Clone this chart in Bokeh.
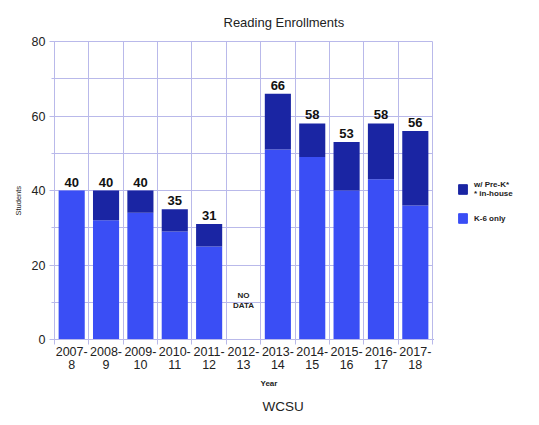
from bokeh.plotting import figure
from bokeh.layouts import row
from bokeh.models import (ColumnDataSource, FixedTicker, SingleIntervalTicker, Range1d,
                          Title, Legend, LegendItem)
from bokeh.core.properties import value
from bokeh.embed import file_html
from bokeh.resources import INLINE

# School years and enrollment counts (None = no data that year)
years = ["2007-8", "2008-9", "2009-10", "2010-11", "2011-12", "2012-13",
         "2013-14", "2014-15", "2015-16", "2016-17", "2017-18"]
totals = [40, 40, 40, 35, 31, None, 66, 58, 53, 58, 56]
k6_only = [40, 32, 34, 29, 25, None, 51, 49, 40, 43, 36]
series_names = ["w/ Pre-K*\n* in-house", "K-6 only"]

FONT = "Liberation Sans"
LIGHT = "#3a4ef5"
DARK = "#1a25a3"
GRID = "#b9b9ea"
INK = "#222222"

xs = [i + 0.5 for i in range(len(years))]
k6 = [v if v is not None else 0 for v in k6_only]
prek = [(t - k) if t is not None else 0 for t, k in zip(totals, k6_only)]

src = ColumnDataSource(dict(x=xs, k6=k6, prek=prek))

p = figure(width=433, height=425, output_backend="svg", toolbar_location=None,
           x_range=Range1d(0, len(years)), y_range=Range1d(0, 80),
           min_border_left=54, min_border_right=1, min_border_top=40,
           min_border_bottom=86)
p.outline_line_color = GRID
p.background_fill_color = "white"

p.vbar_stack(["k6", "prek"], x="x", width=0.76, color=[LIGHT, DARK],
             line_color=None, source=src)

# total labels above each bar
lab_x = [x for x, t in zip(xs, totals) if t is not None]
lab_y = [t for t in totals if t is not None]
lab_t = [str(t) for t in lab_y]
p.text(x=lab_x, y=lab_y, text=lab_t, y_offset=-4,
       text_align="center", text_baseline="bottom", text_font=value(FONT),
       text_font_size="13px", text_font_style="bold", text_color="#111111")

# year without a value
nd = [i for i, t in enumerate(totals) if t is None]
p.text(x=[xs[i] for i in nd], y=[10.5] * len(nd), text=["NO\nDATA"] * len(nd),
       text_align="center", text_baseline="middle", text_font=value(FONT),
       text_font_size="8px", text_font_style="bold", text_color=INK,
       text_line_height=1.1)

# x axis: labels at bar centres, ticks at category boundaries
xa = p.xaxis[0]
xa.ticker = FixedTicker(ticks=xs, minor_ticks=list(range(len(years) + 1)))
xa.major_label_overrides = {x: y.replace("-", "-\n") for x, y in zip(xs, years)}
xa.major_tick_line_color = None
xa.major_tick_out = 0
xa.major_tick_in = 0
xa.minor_tick_out = 5
xa.minor_tick_in = 0
xa.minor_tick_line_color = GRID
xa.axis_line_color = GRID
xa.major_label_text_font = FONT
xa.major_label_text_font_size = "12.5px"
xa.major_label_text_line_height = 0.95
xa.major_label_text_color = INK
xa.major_label_standoff = 0
p.xgrid.ticker = FixedTicker(ticks=list(range(len(years) + 1)))
p.xgrid.grid_line_color = GRID

ya = p.yaxis[0]
ya.ticker = SingleIntervalTicker(interval=20, num_minor_ticks=2)
ya.major_tick_out = 5
ya.major_tick_in = 0
ya.minor_tick_out = 3
ya.minor_tick_in = 0
ya.major_tick_line_color = GRID
ya.minor_tick_line_color = GRID
ya.axis_line_color = GRID
ya.major_label_text_font = FONT
ya.major_label_text_font_size = "12.5px"
ya.major_label_text_color = INK
ya.major_label_standoff = 4
p.ygrid.grid_line_color = GRID
p.ygrid.minor_grid_line_color = GRID

# titles around the frame
p.title.text = "Reading Enrollments"
p.title.align = "left"
p.title.offset = 169
p.title.standoff = 24
p.title.text_font = FONT
p.title.text_font_size = "13px"
p.title.text_font_style = "normal"
p.title.text_color = INK

p.add_layout(Title(text="Students", align="left", offset=124, text_font=FONT,
                   text_font_size="7.5px", text_font_style="normal",
                   text_color=INK, standoff=11), "left")
p.add_layout(Title(text="Year", align="left", offset=206, text_font=FONT,
                   text_font_size="8px", text_font_style="bold",
                   text_color=INK, standoff=4), "below")
p.add_layout(Title(text="WCSU", align="left", offset=208, text_font=FONT,
                   text_font_size="13.5px", text_font_style="normal",
                   text_color=INK, standoff=14), "below")

# legend panel to the right of the chart
lf = figure(width=106, height=425, output_backend="svg", toolbar_location=None,
            x_range=Range1d(0, 1), y_range=Range1d(0, 1), min_border=0)
lf.axis.visible = False
lf.grid.visible = False
lf.outline_line_color = None
sw_dark = lf.vbar(x=[-5], top=[0], width=0.01, color=DARK)
sw_light = lf.vbar(x=[-5], top=[0], width=0.01, color=LIGHT)
legend = Legend(items=[LegendItem(label=series_names[0], renderers=[sw_dark]),
                       LegendItem(label=series_names[1], renderers=[sw_light])],
                location=(24, 115), border_line_color=None, background_fill_alpha=0,
                glyph_width=11, glyph_height=12, label_text_font=FONT,
                label_text_font_size="8px", label_text_font_style="bold",
                label_text_color=INK, label_standoff=6, spacing=14, padding=2,
                margin=0)
lf.add_layout(legend, "center")

layout = row(p, lf, spacing=0)
open("out.html", "w").write(file_html(layout, INLINE))
